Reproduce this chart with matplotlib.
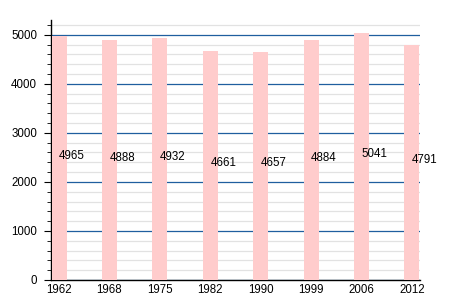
import matplotlib
matplotlib.use("Agg")
import matplotlib.pyplot as plt
from matplotlib.ticker import MultipleLocator

years = ["1962", "1968", "1975", "1982", "1990", "1999", "2006", "2012"]
population = [4965, 4888, 4932, 4661, 4657, 4884, 5041, 4791]

plt.rcParams['font.family'] = ['Liberation Sans', 'DejaVu Sans']

fig = plt.figure(figsize=(4.5, 3), dpi=100)
ax = fig.add_axes([51/450, 20/300, (420-51)/450, (280-20)/300])

x = list(range(len(years)))
ax.bar(x, population, width=0.3, color='#ffcccc', zorder=3)
for xi, v in zip(x, population):
    ax.text(xi, v/2 + 50, str(v), ha='left', va='center', fontsize=8.3, color='black', zorder=4)

ax.set_xlim(-0.16, 7.16)
ax.set_ylim(0, 5300)
ax.yaxis.set_major_locator(MultipleLocator(1000))
ax.yaxis.set_minor_locator(MultipleLocator(200))
ax.grid(which='minor', axis='y', color='#e2e2e2', linewidth=0.9, zorder=1)
ax.grid(which='major', axis='y', color='#1f5f9f', linewidth=0.9, zorder=2)
ax.set_xticks(x)
ax.set_xticklabels(years)
ax.tick_params(axis='x', length=0, labelsize=8.3, pad=3)
ax.tick_params(axis='y', which='major', length=5, labelsize=8.3, pad=5)
ax.tick_params(axis='y', which='minor', length=3)
for s in ['top', 'right']:
    ax.spines[s].set_visible(False)
ax.spines['left'].set_linewidth(1)
ax.spines['bottom'].set_linewidth(1)

fig.savefig('out.png', dpi=100)
